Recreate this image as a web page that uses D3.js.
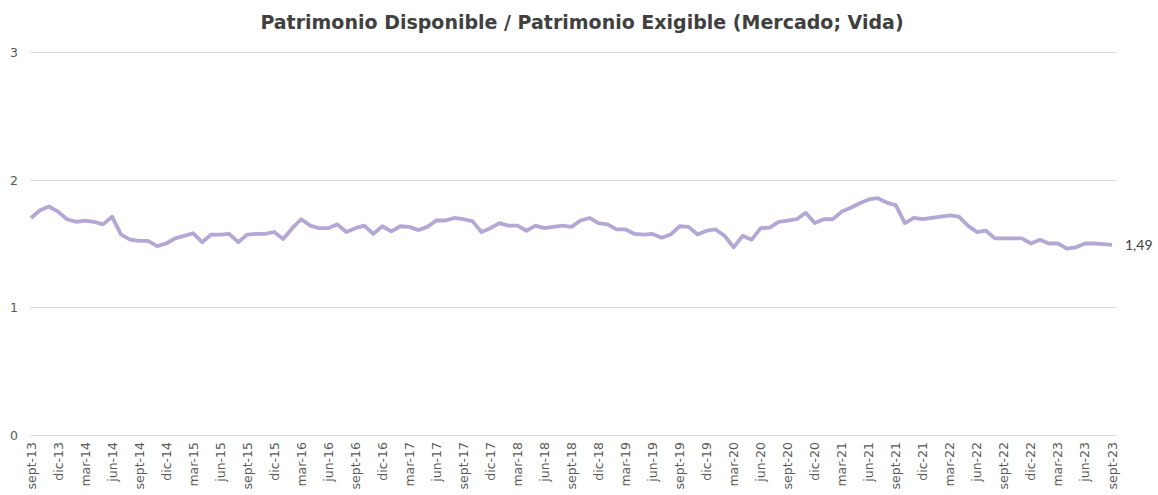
<!DOCTYPE html>
<html>
<head>
<meta charset="utf-8">
<script src="https://cdn.jsdelivr.net/npm/d3@7"></script>
<style>
  body { margin: 0; background: #fff; }
  svg text { font-family: "DejaVu Sans", Lato, sans-serif; }
</style>
</head>
<body>
<svg id="chart" width="1158" height="495"></svg>
<script>
// monthly series from sept-13 to sept-23
var monthNames = ["ene","feb","mar","abr","may","jun","jul","ago","sept","oct","nov","dic"];
var startYear = 2013, startMonth = 8;

var ratio = [
  1.70, 1.76, 1.79, 1.75,
  1.69, 1.67, 1.68, 1.67, 1.65, 1.71, 1.57, 1.53, 1.52, 1.52, 1.48, 1.50,
  1.54, 1.56, 1.58, 1.51, 1.57, 1.57, 1.575, 1.51, 1.57, 1.575, 1.575, 1.59,
  1.535, 1.62, 1.69, 1.64, 1.62, 1.62, 1.65, 1.59, 1.62, 1.64, 1.575, 1.635,
  1.595, 1.635, 1.63, 1.605, 1.63, 1.68, 1.68, 1.70, 1.69, 1.675, 1.59, 1.62,
  1.66, 1.64, 1.64, 1.60, 1.64, 1.62, 1.63, 1.64, 1.63, 1.68, 1.70, 1.66,
  1.65, 1.61, 1.61, 1.575, 1.57, 1.575, 1.545, 1.57, 1.635, 1.63, 1.57, 1.60,
  1.61, 1.56, 1.47, 1.56, 1.53, 1.62, 1.625, 1.67, 1.68, 1.69, 1.74, 1.66,
  1.69, 1.69, 1.75, 1.78, 1.815, 1.845, 1.855, 1.82, 1.80, 1.66, 1.70, 1.69,
  1.70, 1.71, 1.72, 1.71, 1.64, 1.59, 1.60, 1.54, 1.54, 1.54, 1.54, 1.50,
  1.53, 1.50, 1.50, 1.46, 1.47, 1.50, 1.50, 1.495, 1.49
];

var yTicks = [0, 1, 2, 3];

var categories = ratio.map(function (d, i) {
  var m = (startMonth + i) % 12;
  var y = startYear + Math.floor((startMonth + i) / 12);
  return monthNames[m] + "-" + String(y).slice(2);
});

var svg = d3.select("#chart");

var x = d3.scalePoint()
  .domain(d3.range(ratio.length))
  .range([31, 1112]);

var y = d3.scaleLinear()
  .domain([0, 3])
  .range([435, 52]);

// grid
svg.append("g")
  .selectAll("line")
  .data(yTicks)
  .enter().append("line")
  .attr("x1", 30)
  .attr("x2", 1117)
  .attr("y1", function (d) { return Math.round(y(d)) + 0.5; })
  .attr("y2", function (d) { return Math.round(y(d)) + 0.5; })
  .attr("stroke", "#d9d9d9")
  .attr("stroke-width", 1);

svg.append("g")
  .selectAll("text")
  .data(yTicks)
  .enter().append("text")
  .attr("x", 18)
  .attr("y", function (d) { return y(d) + 5; })
  .attr("text-anchor", "end")
  .attr("fill", "#595959")
  .style("font-size", "12.5px")
  .text(function (d) { return d; });

// x labels every 3 months
svg.append("g")
  .selectAll("text")
  .data(d3.range(0, categories.length, 3))
  .enter().append("text")
  .attr("transform", function (i) {
    return "translate(" + (x(i) + 4.5) + ",442) rotate(-90)";
  })
  .attr("text-anchor", "end")
  .attr("fill", "#595959")
  .style("font-size", "12.5px")
  .text(function (i) { return categories[i]; });

var line = d3.line()
  .x(function (d, i) { return x(i); })
  .y(function (d) { return y(d); });

svg.append("path")
  .datum(ratio)
  .attr("d", line)
  .attr("fill", "none")
  .attr("stroke", "#b4a7d6")
  .attr("stroke-width", 3.8)
  .attr("stroke-linejoin", "round");

// last value label
var last = ratio.length - 1;
svg.append("text")
  .attr("x", x(last) + 13)
  .attr("y", y(ratio[last]) + 5)
  .attr("fill", "#404040")
  .style("font-family", "Lato, sans-serif")
  .style("font-size", "14px")
  .text(d3.format(".2f")(ratio[last]).replace(".", ","));

svg.append("text")
  .attr("x", 582)
  .attr("y", 29)
  .attr("text-anchor", "middle")
  .attr("fill", "#404040")
  .style("font-weight", "bold")
  .style("font-size", "19px")
  .text("Patrimonio Disponible / Patrimonio Exigible (Mercado; Vida)");
</script>
</body>
</html>
